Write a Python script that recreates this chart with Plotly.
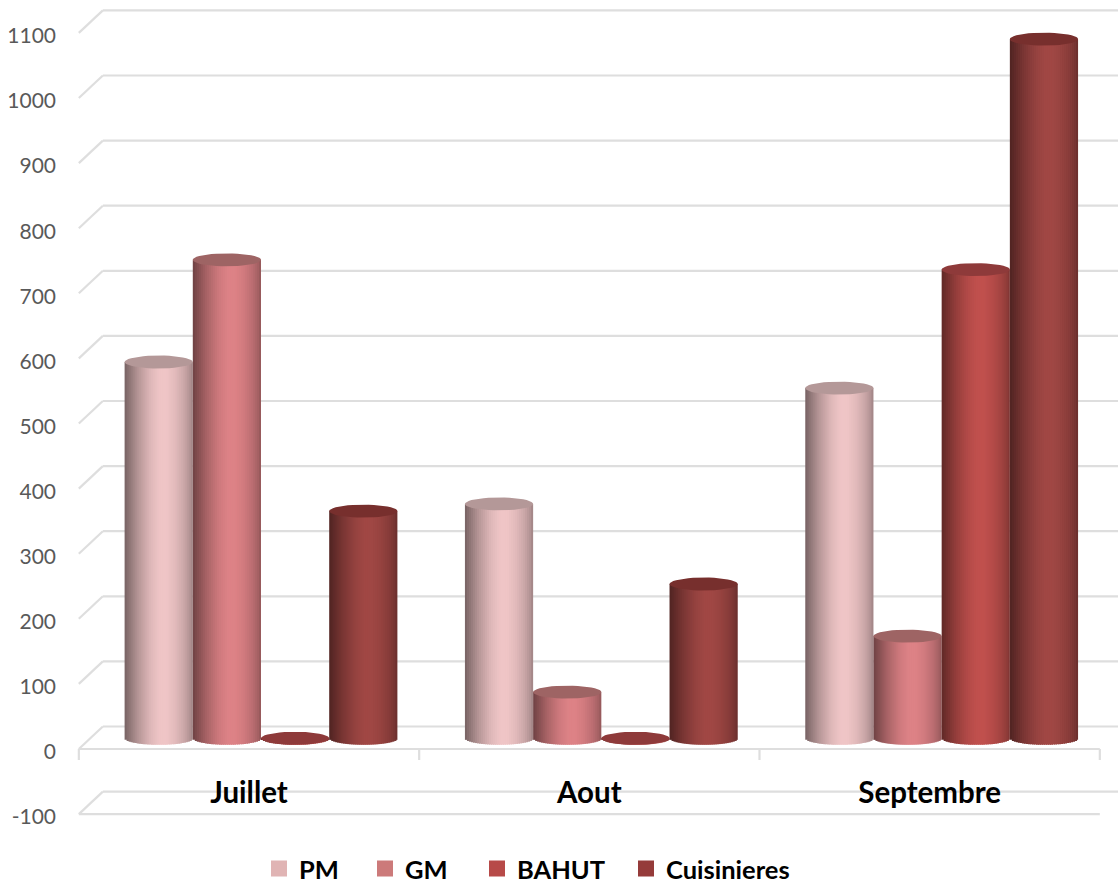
import math
import plotly.graph_objects as go

# Monthly values for each product line
categories = ["Juillet", "Aout", "Septembre"]
pm_values = [578, 360, 538]
gm_values = [735, 71, 157]
bahut_values = [0, 0, 720]
cuisinieres_values = [349, 237, 1074]
series_names = ["PM", "GM", "BAHUT", "Cuisinieres"]
series_values = [pm_values, gm_values, bahut_values, cuisinieres_values]
y_ticks = list(range(-100, 1101, 100))
y_tick_labels = [str(t) for t in y_ticks]

# Colours per series: brightest body tone, cap tone, legend swatch
body_colors = [(239, 197, 198), (221, 130, 134), (192, 80, 77), (160, 71, 68)]
cap_colors = ["#B49898", "#9E6464", "#8E3A3A", "#772F2D"]
swatch_colors = ["#E0B4B4", "#CC7A7A", "#B74A48", "#953B3A"]
legend_x_px = [259, 365, 477, 626]

W, H = 1118, 884
PX_PER_CAT = 340.33
PX_PER_UNIT = 0.651
X0_PX = 249
Y0_PX = 749


def dx(px):
    return px / PX_PER_CAT


def dy(px):
    return px / PX_PER_UNIT


DEPTH_X = dx(24)
DEPTH_Y = dy(22.5)
MID_X = dx(12)
MID_Y = dy(10.7)
CYL_W = dx(68.2)
CYL_RY = dy(6.5)
STRIPS = 34
# Tick labels sit slightly below the front edge of their gridline
LABEL_DROP = dy(3)

# Horizontal light falloff across a cylinder (position, brightness)
PROFILE = [(0, .50), (.06, .58), (.2, .76), (.38, .93), (.52, 1.0), (.62, 1.0),
           (.75, .94), (.88, .84), (.96, .74), (1, .66)]


def shade(u):
    for (a, fa), (b, fb) in zip(PROFILE, PROFILE[1:]):
        if a <= u <= b:
            return fa + (fb - fa) * (u - a) / (b - a)
    return PROFILE[-1][1]


fig = go.Figure()

# Body of each cylinder: narrow vertical bars with the shaded colour and a curved foot
for j, values in enumerate(series_values):
    left = (j - 2) * CYL_W + MID_X
    for k in range(STRIPS):
        u = (k + 0.5) / STRIPS
        f = shade(u)
        r, g, b = body_colors[j]
        foot = CYL_RY * math.sqrt(max(0, 1 - (2 * u - 1) ** 2))
        step = CYL_W / STRIPS
        fig.add_bar(
            x=list(range(len(categories))),
            y=[v + foot for v in values],
            base=MID_Y - foot,
            offset=left + k * step,
            width=step * (1.5 if k < STRIPS - 1 else 1),
            marker=dict(color=f"rgb({r * f:.0f},{g * f:.0f},{b * f:.0f})", line_width=0),
            showlegend=False,
            hoverinfo="skip",
        )

# Elliptical top of each cylinder
for j, values in enumerate(series_values):
    xs, ys = [], []
    for i, v in enumerate(values):
        cx = i + MID_X + (j - 1.5) * CYL_W
        for t in range(41):
            a = 2 * math.pi * t / 40
            xs.append(cx + CYL_W / 2 * math.cos(a))
            ys.append(v + MID_Y + CYL_RY * math.sin(a))
        xs.append(None)
        ys.append(None)
    fig.add_scatter(
        x=xs, y=ys, mode="lines", fill="toself", fillcolor=cap_colors[j],
        line=dict(width=0, color=cap_colors[j]), showlegend=False, hoverinfo="skip",
    )

# Legend entries, one legend per series so each can sit at its own position
legend_layout = {}
for j, name in enumerate(series_names):
    key = "legend" if j == 0 else f"legend{j + 1}"
    fig.add_scatter(
        x=[None], y=[None], mode="markers", name=name, legend=key,
        marker=dict(symbol="square", size=16, color=swatch_colors[j]),
    )
    legend_layout[key] = dict(
        x=legend_x_px[j] / W, y=1 - 869 / H, xanchor="left", yanchor="middle",
        bgcolor="rgba(0,0,0,0)", borderwidth=0,
        font=dict(family="Lato", size=25.5, color="#000000", weight="bold"),
    )

# Back-wall gridlines with their slanted returns, and the floor edges
GRID = dict(color="#DEDEDE", width=2.2)
x_left = -0.5
x_right = 2.5
x_far = (W - X0_PX) / PX_PER_CAT
shapes = []
for t in y_ticks:
    shapes.append(dict(type="line", xref="x", yref="y", layer="below", line=GRID,
                       x0=x_left, y0=t, x1=x_left + DEPTH_X, y1=t + DEPTH_Y))
    shapes.append(dict(type="line", xref="x", yref="y", layer="below", line=GRID,
                       x0=x_left + DEPTH_X, y0=t + DEPTH_Y, x1=x_far, y1=t + DEPTH_Y))
for t in (0, -100):
    shapes.append(dict(type="line", xref="x", yref="y", layer="below", line=GRID,
                       x0=x_left, y0=t, x1=x_right, y1=t))
for i in range(len(categories) + 1):
    shapes.append(dict(type="line", xref="x", yref="y", layer="below", line=GRID,
                       x0=i - 0.5, y0=0, x1=i - 0.5, y1=-dy(11)))

fig.update_layout(
    width=W, height=H, autosize=False,
    margin=dict(l=0, r=0, t=0, b=0, autoexpand=False),
    paper_bgcolor="white", plot_bgcolor="white",
    barmode="overlay",
    shapes=shapes,
    xaxis=dict(
        range=[(0 - X0_PX) / PX_PER_CAT, (W - X0_PX) / PX_PER_CAT],
        tickmode="array", tickvals=list(range(len(categories))), ticktext=categories,
        anchor="free", position=(H - 760) / H,
        ticks="outside", ticklen=7, tickcolor="rgba(0,0,0,0)",
        showgrid=False, zeroline=False, showline=False,
        tickfont=dict(family="Lato", size=29.5, color="#000000", weight="bold"),
    ),
    yaxis=dict(
        range=[(Y0_PX - H) / PX_PER_UNIT, Y0_PX / PX_PER_UNIT],
        tickmode="array", tickvals=[t - LABEL_DROP for t in y_ticks], ticktext=y_tick_labels,
        anchor="free", position=56 / W,
        showgrid=False, zeroline=False, showline=False, ticks="",
        tickfont=dict(family="Lato", size=21, color="#595959"),
    ),
    **legend_layout,
)

fig.write_html("out.html")
